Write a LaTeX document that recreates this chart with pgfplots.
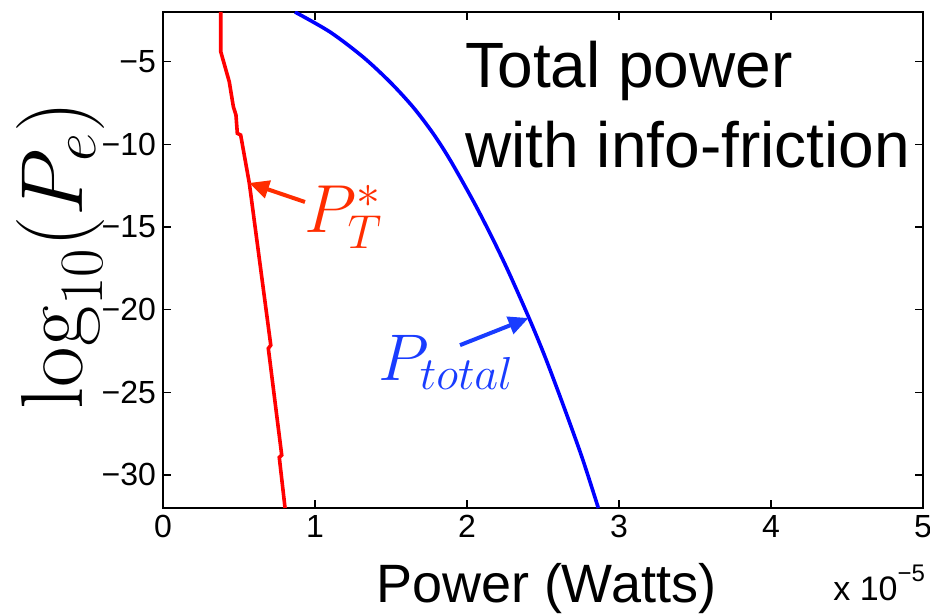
\documentclass[border=0pt]{standalone}
\usepackage{fix-cm}
\usepackage{pgfplots}
\pgfplotsset{compat=1.18}
\usepackage[no-math]{fontspec}
\setmainfont{Liberation Sans}
\usetikzlibrary{arrows.meta}
\definecolor{ptred}{RGB}{255,45,0}
\definecolor{ptblue}{RGB}{25,60,255}
\begin{document}
\begin{tikzpicture}
\useasboundingbox (-81.5pt,-53.5pt) rectangle (383.5pt,254pt);
\begin{axis}[
  at={(0,0)}, anchor=south west, scale only axis,
  width=380pt, height=248pt,
  clip mode=individual,
  xmin=0, xmax=5, ymin=-32, ymax=-2,
  xtick={0,1,2,3,4,5},
  ytick={-30,-25,-20,-15,-10,-5},
  yticklabels={−30,−25,−20,−15,−10,−5},
  /pgf/number format/assume math mode=true,
  tick label style={font=\fontsize{16}{18}\selectfont},
  axis line style={line width=0.8pt},
  tick style={black, line width=0.6pt},
  major tick length=4pt,
  tick align=inside,
  xlabel={Power (Watts)},
  xlabel style={font=\fontsize{27}{30}\selectfont, at={(axis description cs:0.504,-0.1915)}, anchor=base},
  ylabel={$\log_{10}(P_e)$},
  ylabel style={font=\fontsize{44}{48}\selectfont, at={(axis description cs:-0.1355,0.51)}, anchor=center},
]
\addplot[red, line width=1.8pt] coordinates {
 (0.380,-2) (0.380,-4.40) (0.408,-5.31) (0.436,-6.22) (0.452,-7.12) (0.463,-7.73)
 (0.480,-8.23) (0.489,-9.34) (0.511,-9.44) (0.568,-12.36) (0.709,-22.15) (0.693,-22.35)
 (0.781,-28.80) (0.765,-28.94) (0.803,-32)
};
\addplot[blue, line width=1.8pt, smooth] coordinates {
 (0.868,-2) (1.099,-3.21) (1.316,-4.72) (1.493,-6.23) (1.645,-7.75) (1.775,-9.32)
 (1.889,-10.95) (2.048,-13.55) (2.173,-15.79) (2.277,-17.79) (2.408,-20.51)
 (2.514,-22.87) (2.638,-25.9) (2.759,-29) (2.864,-32)
};
\draw[ptred, line width=2pt, -{Triangle[length=10pt,width=9pt]}] (axis cs:0.934,-13.49) -- (axis cs:0.566,-12.34);
\node[ptred, anchor=base west, inner sep=0pt, font=\fontsize{34}{36}\selectfont] at (axis cs:0.93,-15.31) {$P_T^*$};
\draw[ptblue, line width=2pt, -{Triangle[length=10pt,width=9pt]}] (axis cs:1.954,-22.15) -- (axis cs:2.405,-20.51);
\node[ptblue, anchor=base west, inner sep=0pt, font=\fontsize{33}{36}\selectfont] at (axis cs:1.414,-24.26) {$P_{total}$};
\node[anchor=base west, inner sep=0pt, font=\fontsize{32}{36}\selectfont] at (axis cs:1.987,-6.54) {Total power};
\node[anchor=base west, inner sep=0pt, font=\fontsize{32}{36}\selectfont] at (axis cs:1.987,-11.38) {with info-friction};
\node[anchor=base west, inner sep=0pt, font=\fontsize{17}{19}\selectfont] at (rel axis cs:0.8816,-0.1855) {x 10\raisebox{0.55em}{\fontsize{12}{13}\selectfont −5}};
\end{axis}
\end{tikzpicture}
\end{document}
